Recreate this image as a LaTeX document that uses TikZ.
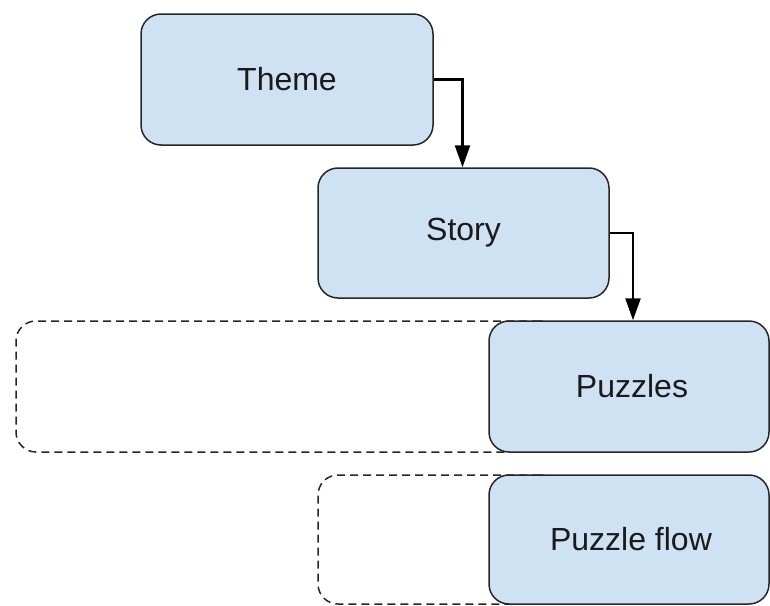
\documentclass[tikz,border=0pt]{standalone}
\usepackage{fontspec}
\setmainfont{Liberation Sans}
\usetikzlibrary{arrows.meta}
\definecolor{boxfill}{HTML}{CFE2F3}
\definecolor{boxline}{HTML}{262626}
\definecolor{inkcol}{HTML}{1A1A1A}
\tikzset{
  stagebox/.style={draw=boxline, line width=1.5pt, fill=boxfill, rounded corners=20pt,
    inner sep=0pt, text=inkcol, font=\fontsize{32}{37}\selectfont},
  ghostbox/.style={draw=boxline, line width=1.5pt, dash pattern=on 8pt off 5pt,
    rounded corners=20pt, inner sep=0pt},
  flowarrow/.style={draw=black, line width=2.4pt,
    -{Triangle[length=22pt, width=15pt]}}
}
\begin{document}
\begin{tikzpicture}[x=1pt, y=-1pt]
  \useasboundingbox (0,0) rectangle (770,605);
  % dashed placeholders behind the lower boxes
  \node[ghostbox, minimum width=544pt, minimum height=131pt] (puzzlesGhost) at (288,386.5) {};
  \node[ghostbox, minimum width=242pt, minimum height=129pt] (flowGhost) at (439,539.5) {};
  % stages
  \node[stagebox, minimum width=292pt, minimum height=131pt] (theme) at (287,79.5) {Theme};
  \node[stagebox, minimum width=291pt, minimum height=130pt] (story) at (463.5,233) {Story};
  \node[stagebox, minimum width=280pt, minimum height=131pt] (puzzles) at (629,386.5) {\hspace*{6pt}Puzzles};
  \node[stagebox, minimum width=280pt, minimum height=129pt] (flow) at (629,539.5) {\hspace*{4pt}Puzzle flow};
  % connectors
  \draw[flowarrow] (theme.east) -| ([xshift=-1pt]story.north);
  \draw[flowarrow] (story.east) -| ([xshift=4pt]puzzles.north);
\end{tikzpicture}
\end{document}
